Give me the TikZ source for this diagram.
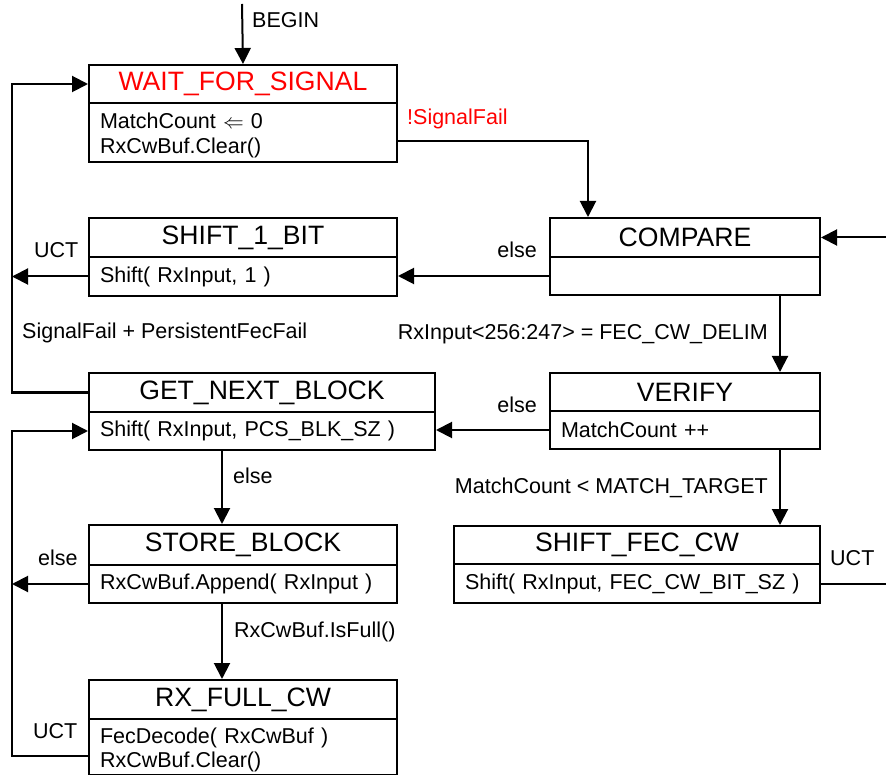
\documentclass[tikz,border=0pt]{standalone}
\usepackage{fontspec}
\setmainfont{Liberation Sans}
\usetikzlibrary{arrows.meta}
\newcommand\titlesize{\fontsize{26.6}{30}\selectfont}
\newcommand\bodysize{\fontsize{21.5}{24.5}\selectfont}
% raises the first line of a two-line action block so the block sits a little lower
\newcommand\firststrut{\rule{0pt}{21.5pt}}
\definecolor{sigred}{RGB}{255,0,0}

\begin{document}
\begin{tikzpicture}[x=1pt,y=-1pt,
  box/.style={draw, line width=2pt, inner sep=0pt, anchor=north west},
  ttl/.style={box, font=\titlesize},
  body/.style={box, font=\bodysize, align=left, inner xsep=11pt},
  lbl/.style={font=\bodysize, inner sep=0pt},
  wire/.style={line width=2pt},
  arr/.style={wire, -{Triangle[length=16pt,width=16pt]}},
]
\useasboundingbox (0,0) rectangle (886,775);

% states: title row and action row
\node[ttl, minimum width=308pt, minimum height=38pt, text=sigred] (wait) at (88,64) {WAIT\_FOR\_SIGNAL};
\node[body, minimum width=308pt, minimum height=59pt, text width=286pt] (waitb) at (88,102) {\firststrut MatchCount $\Leftarrow$ 0\\RxCwBuf.Clear()};

\node[ttl, minimum width=270pt, minimum height=39pt] (compare) at (549,217) {COMPARE};
\node[body, minimum width=270pt, minimum height=38pt, text width=248pt] (compareb) at (549,256) {};

\node[ttl, minimum width=308pt, minimum height=39pt] (shift1) at (88,217) {SHIFT\_1\_BIT};
\node[body, minimum width=308pt, minimum height=39pt, text width=286pt] (shift1b) at (88,256) {Shift( RxInput, 1 )};

\node[ttl, minimum width=346pt, minimum height=39pt] (getnext) at (88,372) {GET\_NEXT\_BLOCK};
\node[body, minimum width=346pt, minimum height=38pt, text width=324pt] (getnextb) at (88,411) {Shift( RxInput, PCS\_BLK\_SZ )};

\node[ttl, minimum width=270pt, minimum height=38pt] (verify) at (549,372) {VERIFY};
\node[body, minimum width=270pt, minimum height=38pt, text width=248pt] (verifyb) at (549,410) {MatchCount ++};

\node[ttl, minimum width=366pt, minimum height=38pt] (shiftfec) at (453,525) {SHIFT\_FEC\_CW};
\node[body, minimum width=366pt, minimum height=39pt, text width=344pt] (shiftfecb) at (453,563) {Shift( RxInput, FEC\_CW\_BIT\_SZ )};

\node[ttl, minimum width=308pt, minimum height=40pt] (store) at (88,524) {STORE\_BLOCK};
\node[body, minimum width=308pt, minimum height=38pt, text width=286pt] (storeb) at (88,564) {RxCwBuf.Append( RxInput )};

\node[ttl, minimum width=308pt, minimum height=39pt] (rxfull) at (88,679) {RX\_FULL\_CW};
\node[body, minimum width=308pt, minimum height=56pt, text width=286pt] (rxfullb) at (88,718) {\firststrut FecDecode( RxCwBuf )\\RxCwBuf.Clear()};

% routing points
\coordinate (begin) at (242,4);
\coordinate (sf) at (588,141);
\coordinate (railx) at (12,0);
\coordinate (cv) at (780,0);
\coordinate (gs) at (222,0);
\coordinate (edger) at (886,0);
\coordinate (uctlow) at (12,756);

% transitions
\draw[arr] (begin) -- (wait.north);
\draw[arr] (waitb.east |- sf) -- (sf) -- (compare.north -| sf);
\draw[arr] (compareb.west) -- (compareb.west -| shift1b.east);
\draw[arr] (shift1b.west) -- (shift1b.west -| railx);
\draw[arr] (getnext.west) -- (getnext.west -| railx) |- (wait.west);
\draw[arr] (verifyb.west) -- (verifyb.west -| getnextb.east);
\draw[arr] (compareb.south -| cv) -- (verify.north -| cv);
\draw[arr] (verifyb.south -| cv) -- (shiftfec.north -| cv);
\draw[wire] (shiftfecb.east) -- (shiftfecb.east -| edger);
\draw[arr] (compare.east -| edger) -- (compare.east);
\draw[arr] (getnextb.south -| gs) -- (store.north -| gs);
\draw[arr] (storeb.west) -- (storeb.west -| railx);
\draw[arr] (storeb.south -| gs) -- (rxfull.north -| gs);
\draw[arr] (rxfullb.west |- uctlow) -- (uctlow) |- (getnextb.west);

% transition conditions
\node[lbl, anchor=base west] (lbegin) at (252,28) {BEGIN};
\node[lbl, anchor=base west, text=sigred] (lsigok) at (407,125) {!SignalFail};
\node[lbl, anchor=base east] (lcmpelse) at (537,258) {else};
\node[lbl, anchor=base east] (ldelim) at (768,340) {RxInput<256:247> = FEC\_CW\_DELIM};
\node[lbl, anchor=base west] (lshiftuct) at (34,258) {UCT};
\node[lbl, anchor=base west] (lfail) at (22,339) {SignalFail + PersistentFecFail};
\node[lbl, anchor=base east] (lverelse) at (537,412) {else};
\node[lbl, anchor=base east] (ltarget) at (768,493) {MatchCount < MATCH\_TARGET};
\node[lbl, anchor=base west] (lfecuct) at (830,565) {UCT};
\node[lbl, anchor=base west] (lgnbelse) at (233,483) {else};
\node[lbl, anchor=base west] (lstoreelse) at (38,565) {else};
\node[lbl, anchor=base west] (lfull) at (234,637) {RxCwBuf.IsFull()};
\node[lbl, anchor=base west] (lrxuct) at (33,738) {UCT};
\end{tikzpicture}
\end{document}
